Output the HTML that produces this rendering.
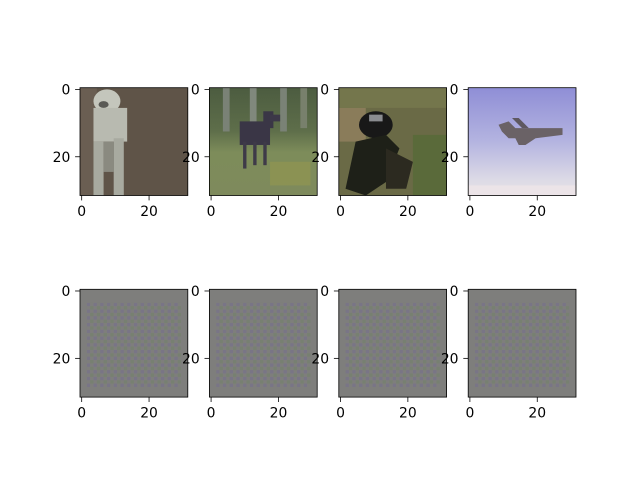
<!DOCTYPE html>
<html><head><meta charset="utf-8"><style>
body{margin:0;background:#fff;}
svg text{font-family:"DejaVu Sans","Liberation Sans",sans-serif;font-size:13.9px;fill:#000;}
</style></head><body>
<svg id="fig" width="640" height="480" viewBox="0 0 640 480" xmlns="http://www.w3.org/2000/svg">
<defs>
<pattern id="noise" width="2" height="2" patternUnits="userSpaceOnUse">
<rect width="2" height="2" fill="#7f7f7c"/>
<rect x="0" y="0" width="1" height="1" fill="#78728a"/>
<rect x="1" y="1" width="1" height="1" fill="#74826c"/>
</pattern>
<linearGradient id="sky" x1="0" y1="0" x2="0" y2="1">
<stop offset="0" stop-color="#8f8ed6"/><stop offset="0.5" stop-color="#b4b4e0"/><stop offset="0.85" stop-color="#dcdae6"/><stop offset="1" stop-color="#e8e2e6"/>
</linearGradient>
<linearGradient id="field" x1="0" y1="0" x2="0" y2="1">
<stop offset="0" stop-color="#4c5c40"/><stop offset="0.4" stop-color="#5e6e4a"/><stop offset="0.6" stop-color="#7d8c5a"/><stop offset="1" stop-color="#7e8a5c"/>
</linearGradient>
</defs>
</svg>
<script>
const xTickValues=[0,20];
const yTickValues=[0,20];
const imageSize=32;
const panelNames=['dog','deer','frog','airplane','recon-1','recon-2','recon-3','recon-4'];
const NS='http://www.w3.org/2000/svg';
const fig=document.getElementById('fig');
const lefts=[80,209.4,338.8,468.2], tops=[87.7,289.3], W=107.8;
function el(t,a,p){const e=document.createElementNS(NS,t);for(const k in a)e.setAttribute(k,a[k]);(p||fig).appendChild(e);return e;}
const contents=[
 `<rect width="32" height="32" fill="#5f5448"/><rect width="5" height="32" fill="#6a5e52"/>
  <ellipse cx="8" cy="4" rx="4" ry="3.5" fill="#c4c6bc"/><rect x="4" y="6" width="10" height="10" fill="#b8bab0"/>
  <ellipse cx="7" cy="5" rx="1.5" ry="1" fill="#5a5a55"/><rect x="4" y="16" width="3" height="16" fill="#a8aaa0"/>
  <rect x="10" y="15" width="3" height="17" fill="#a8aaa0"/><rect x="7" y="16" width="3" height="9" fill="#8a8a80"/>`,
 `<rect width="32" height="32" fill="url(#field)"/>
  <rect x="4" y="0" width="2" height="13" fill="#7a8276"/><rect x="12" y="0" width="2" height="12" fill="#80887c"/><rect x="21" y="0" width="2" height="13" fill="#7a8276"/><rect x="27" y="0" width="2" height="12" fill="#78806c"/>
  <rect x="18" y="22" width="12" height="7" fill="#94984f" opacity="0.6"/>
  <rect x="9" y="10" width="9" height="7" fill="#3a3646"/><rect x="16" y="7" width="3" height="5" fill="#3a3646"/><rect x="18" y="8" width="3" height="2" fill="#3c3848"/>
  <rect x="10" y="16" width="1" height="8" fill="#3e3a48"/><rect x="13" y="16" width="1" height="7" fill="#3e3a48"/><rect x="16" y="16" width="1" height="7" fill="#3e3a48"/>`,
 `<rect width="32" height="32" fill="#6a6a46"/><rect x="0" y="0" width="32" height="6" fill="#74764c"/><rect x="0" y="6" width="8" height="10" fill="#8a7c5a"/><rect x="22" y="14" width="10" height="18" fill="#5a6a3a"/>
  <ellipse cx="11" cy="11" rx="5" ry="4" fill="#181818"/><rect x="9" y="8" width="4" height="2" fill="#8a8c90"/>
  <polygon points="5,16 14,14 18,18 14,28 8,32 2,30" fill="#1e2018"/><polygon points="14,18 22,22 20,30 14,30" fill="#2c2a20"/>`,
 `<rect width="32" height="32" fill="url(#sky)"/><rect x="0" y="29" width="32" height="3" fill="#ece4e8"/>
  <polygon points="9,11 12,10 14,12 21,12 28,12 28,14 20,15 17,17 15,17 14,15 12,15 10,13" fill="#6a6266"/>
  <polygon points="13,9 15,9 18,12 16,12" fill="#5e5860"/>`
];
for(let i=0;i<8;i++){
 const r=Math.floor(i/4), c=i%4, x=lefts[c], y=tops[r];
 const g=el('g',{});
 
 
 const inner=el('svg',{x:x,y:y,width:W,height:W,viewBox:'0 0 32 32',preserveAspectRatio:'none'},g);
 
 
 if(i<4) inner.innerHTML=contents[i];
 else inner.innerHTML='<rect width="32" height="32" fill="#7f7f7c"/><rect x="2" y="4" width="28" height="25" fill="url(#noise)"/><rect width="32" height="32" fill="#7f7f7f" opacity="0.3"/>';
 const fr=el('rect',{x:x,y:y,width:W,height:W,fill:'none',stroke:'#000','stroke-width':0.8},g);
 
 
 const s=W/imageSize;
 xTickValues.forEach(v=>{
  const px=x+(v+0.5)*s;
  el('line',{x1:px,y1:y+W,x2:px,y2:y+W+4.9,stroke:'#000','stroke-width':0.8},g);
  const t=el('text',{x:px,y:y+W+20.5,'text-anchor':'middle'},g);t.textContent=v;
  
  
 });
 yTickValues.forEach(v=>{
  const py=y+(v+0.5)*s;
  el('line',{x1:x-4.9,y1:py,x2:x,y2:py,stroke:'#000','stroke-width':0.8},g);
  const t=el('text',{x:x-9.7,y:py+5,'text-anchor':'end'},g);t.textContent=v;
  
  
 });
}
</script>
</body></html>
